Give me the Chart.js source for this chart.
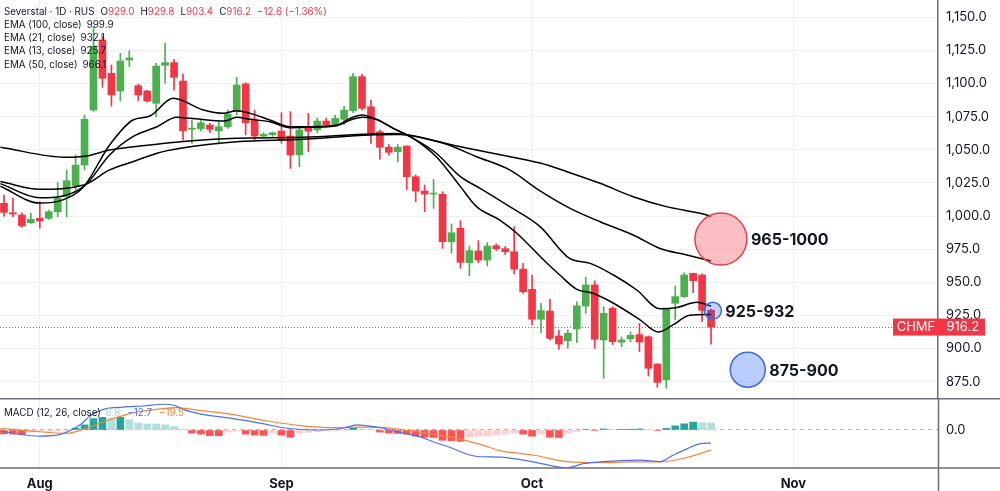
<!DOCTYPE html>
<html>
<head>
<meta charset="utf-8">
<script src="https://cdn.jsdelivr.net/npm/chart.js@4.4.1/dist/chart.umd.min.js"></script>
<style>
  html, body { margin: 0; padding: 0; background: #fff; }
  #wrap { position: relative; width: 1000px; height: 491px; overflow: hidden; font-family: Inter, "Noto Sans", sans-serif; }
  #priceBox { position: absolute; left: 0; top: 0; width: 1000px; height: 398px; }
  #macdBox { position: absolute; left: 0; top: 398px; width: 1000px; height: 93px; }
  .legend { position: absolute; left: 4px; font-size: 9.8px; line-height: 13.3px; color: #131722; white-space: nowrap; }
  .legend .v { margin-left: 5px; }
  .legend .k { margin-left: 6px; }
  .red { color: #f23645; }
</style>
</head>
<body>
<div id="wrap">
  <div id="priceBox"><canvas id="chartPrecio"></canvas></div>
  <div id="macdBox"><canvas id="chartMacd"></canvas></div>
  <div class="legend" style="top:4.5px">
    <div>Severstal · 1D · RUS<span class="k">O</span><span class="red">929.0</span><span class="k">H</span><span class="red">929.8</span><span class="k">L</span><span class="red">903.4</span><span class="k">C</span><span class="red">916.2</span><span class="k red">−12.6 (−1.36%)</span></div>
    <div>EMA (100, close)<span class="v">999.9</span></div>
    <div>EMA (21, close)<span class="v">932.1</span></div>
    <div>EMA (13, close)<span class="v">925.7</span></div>
    <div>EMA (50, close)<span class="v">966.1</span></div>
  </div>
  <div class="legend" style="top:405.5px">MACD (12, 26, close)<span class="v" style="color:#9fd3cd">6.8</span><span class="v" style="color:#4a74e8;margin-left:7px">−12.7</span><span class="v" style="color:#f0883a;margin-left:7px">−19.5</span></div>
</div>
<script>
// velas diarias (indice de barra 0..79)
const opens = [1009.6, 1002.5, 1000.8, 995.0, 998.3, 998.3, 1003.3, 1014.6, 1022.9, 1038.5,
  1080.0, 1132.9, 1107.7, 1094.4, 1117.8, 1098.4, 1094.4, 1085.1, 1113.8, 1115.8,
  1101.9, 1065.5, 1065.9, 1068.7, 1064.4, 1067.4, 1078.8, 1099.7, 1072.5, 1060.4,
  1061.4, 1064.2, 1060.4, 1046.1, 1066.2, 1065.0, 1071.7, 1069.2, 1073.0, 1079.5,
  1105.2, 1082.5, 1063.7, 1051.9, 1048.6, 1052.9, 1029.7, 1018.9, 1016.6, 1016.4,
  980.6, 990.8, 964.8, 973.6, 966.8, 977.6, 975.4, 973.1, 960.0, 944.7,
  922.1, 928.3, 909.5, 905.9, 914.8, 932.1, 948.0, 906.5, 930.4, 904.8,
  907.4, 910.5, 908.9, 888.3, 876.3, 934.2, 939.2, 956.8, 955.5, 929.0];
const highs = [1015.9, 1013.6, 1002.5, 1002.0, 1010.8, 1004.6, 1025.2, 1034.8, 1046.1, 1076.3,
  1142.9, 1136.0, 1114.0, 1122.8, 1124.8, 1099.5, 1095.0, 1115.3, 1130.4, 1118.3,
  1107.2, 1072.5, 1072.0, 1070.0, 1071.2, 1080.0, 1104.7, 1100.6, 1080.0, 1063.0,
  1063.5, 1078.0, 1078.8, 1067.4, 1077.5, 1074.0, 1074.0, 1076.0, 1083.0, 1107.7,
  1107.0, 1087.6, 1065.0, 1054.0, 1054.0, 1053.0, 1031.0, 1023.4, 1027.7, 1018.4,
  994.0, 996.5, 977.4, 981.4, 979.9, 979.0, 977.0, 992.0, 964.3, 955.5,
  934.2, 937.2, 914.0, 914.0, 935.4, 953.8, 951.2, 931.6, 931.6, 908.8,
  912.5, 919.0, 909.5, 888.5, 929.6, 947.2, 957.2, 957.0, 956.3, 929.8];
const lows = [1000.0, 999.3, 991.5, 994.5, 990.8, 997.6, 999.5, 999.5, 1019.7, 1034.8,
  1079.0, 1097.2, 1083.0, 1086.8, 1112.7, 1087.0, 1086.0, 1075.0, 1100.2, 1095.1,
  1057.4, 1054.9, 1064.0, 1062.9, 1054.4, 1066.2, 1076.3, 1061.2, 1057.4, 1059.0,
  1060.0, 1054.9, 1036.0, 1037.2, 1048.6, 1063.0, 1067.0, 1068.0, 1069.0, 1078.0,
  1080.0, 1054.9, 1043.0, 1046.0, 1041.0, 1020.0, 1010.8, 1003.3, 1005.8, 975.7,
  971.9, 960.6, 954.8, 964.8, 962.3, 974.0, 971.0, 956.3, 941.7, 917.8,
  911.9, 906.5, 899.4, 900.2, 904.4, 926.6, 900.2, 877.6, 903.0, 901.2,
  905.2, 897.6, 879.3, 870.8, 870.0, 921.6, 938.5, 942.1, 920.3, 903.4];
const closes = [1002.8, 1001.5, 992.5, 997.5, 996.3, 1003.3, 1013.4, 1026.7, 1038.5, 1073.0,
  1128.3, 1104.0, 1091.4, 1117.0, 1119.3, 1091.4, 1086.8, 1113.2, 1115.8, 1104.7,
  1064.4, 1066.2, 1070.4, 1065.5, 1067.4, 1076.8, 1098.9, 1070.5, 1060.4, 1061.7,
  1062.9, 1057.4, 1046.1, 1065.0, 1064.0, 1071.7, 1068.7, 1073.8, 1080.0, 1105.2,
  1081.3, 1062.5, 1051.9, 1048.1, 1051.9, 1029.7, 1018.9, 1016.6, 1017.2, 980.6,
  987.4, 965.1, 973.9, 966.8, 977.4, 975.4, 973.1, 960.0, 942.9, 922.1,
  928.6, 907.7, 903.4, 911.5, 932.3, 948.0, 907.0, 926.6, 905.2, 906.5,
  910.0, 905.0, 885.1, 874.5, 929.6, 939.2, 955.5, 951.2, 928.8, 916.2];

// medias moviles: posicion (barra) y valor
const ema100At = [-0.4, 7.0, 9.2, 11.8, 16.3, 19.7, 26.0, 33.4, 40.9, 43.7, 45.7, 51.0, 54.6, 59.9, 62.9, 66.6, 70.3, 74.0, 77.8, 79];
const ema100 = [1051.9, 1044.3, 1045.3, 1049.8, 1053.6, 1056.1, 1058.7, 1059.4, 1061.9, 1062.3, 1060.5, 1052.3, 1047.4, 1040.0, 1033.5, 1024.7, 1014.6, 1007.1, 1002.1, 999.9];
const ema50At = [-0.4, 4.0, 8.9, 11.8, 14.4, 17.1, 19.7, 26.0, 33.4, 40.9, 44.2, 49.1, 52.8, 56.5, 59.9, 63.2, 66.6, 70.3, 73.3, 76.3, 79];
const ema50 = [1026.0, 1020.2, 1023.4, 1034.8, 1041.0, 1047.4, 1051.1, 1056.1, 1057.9, 1061.2, 1061.5, 1054.9, 1044.8, 1034.8, 1019.0, 1006.0, 995.7, 985.7, 975.5, 970.6, 966.1];
const ema21At = [-0.4, 4.0, 8.9, 11.8, 14.4, 17.1, 19.3, 20.8, 24.7, 26.0, 27.5, 29.7, 32.0, 34.2, 37.2, 38.7, 40.1, 41.6, 43.5, 45.7, 48.3, 51.0, 53.2, 56.5, 59.9, 63.2, 65.5, 68.1, 70.7, 73.3, 75.2, 77.4, 79];
const ema21 = [1024.5, 1013.8, 1022.2, 1046.1, 1059.9, 1067.4, 1074.5, 1073.8, 1071.7, 1074.5, 1073.0, 1071.2, 1066.7, 1067.0, 1068.2, 1072.5, 1074.5, 1073.0, 1066.2, 1058.7, 1047.4, 1029.7, 1020.9, 1007.1, 992.0, 968.0, 964.3, 955.5, 944.2, 930.0, 931.0, 935.0, 932.1];
const ema13At = [-0.4, 4.0, 6.5, 8.9, 11.8, 14.4, 16.3, 18.9, 22.3, 24.5, 26.0, 27.5, 29.7, 32.0, 34.2, 37.2, 38.7, 40.0, 41.6, 43.5, 45.7, 48.3, 51.0, 52.8, 55.4, 57.3, 60.3, 62.1, 64.0, 65.8, 68.1, 71.1, 73.1, 74.8, 76.6, 79];
const ema13 = [1022.5, 1009.8, 1012.0, 1022.2, 1053.6, 1072.5, 1075.5, 1088.9, 1080.0, 1077.5, 1079.5, 1077.5, 1072.5, 1067.4, 1067.4, 1068.7, 1073.8, 1076.3, 1073.0, 1066.2, 1058.7, 1044.8, 1022.2, 1007.1, 997.0, 987.0, 966.8, 955.5, 944.7, 941.7, 934.2, 921.5, 912.5, 918.0, 925.2, 925.7];

// MACD
const macdAt = [-0.4, 1.8, 4.0, 6.3, 8.5, 9.6, 11.1, 13.3, 15.6, 17.8, 18.9, 20.0, 21.9, 25.6, 28.6, 31.6, 34.9, 37.9, 39.4, 40.5, 42.4, 44.2, 46.5, 48.0, 49.8, 51.7, 53.2, 55.4, 59.1, 62.9, 64.7, 66.6, 71.1, 73.3, 74.8, 76.3, 77.8, 79];
const macdLine = [-1, -4.3, -6, -4.3, 5, 13.3, 20, 22.3, 23.3, 25, 24.3, 20, 15.7, 11, 6.7, 1.7, 0, 1.7, 5, 4.3, 1.7, -2.3, -6.7, -11.7, -16.7, -23.3, -26, -26.3, -31, -36.7, -32.7, -31, -29.3, -30.7, -24.3, -18.3, -13.3, -12.7];
const signalAt = [-0.4, 4.0, 7.0, 9.2, 11.8, 14.4, 17.1, 19.3, 21.9, 25.6, 29.3, 33.1, 36.8, 39.8, 42.4, 46.1, 49.8, 53.6, 55.4, 59.1, 62.9, 66.6, 70.3, 73.3, 76.3, 79];
const signalLine = [1.7, -1.7, -3.3, 1.7, 10, 16.7, 20, 21.7, 19, 15, 9, 4.3, 2.3, 2.7, 2.3, -1.7, -6.7, -15, -20, -24.3, -30.7, -31.7, -31, -31, -26.7, -19.5];
const hist = [-3.8, -4.0, -4.5, -2.0, -1.5, -1.3, -1.0, -0.5, 1.7, 5.0,
  11.0, 12.3, 11.7, 12.3, 10.0, 6.7, 5.8, 5.7, 5.0, 3.3,
  0.3, -3.0, -4.0, -5.5, -5.7, -2.0, -1.0, -4.0, -5.0, -5.3,
  -3.0, -5.0, -7.0, -3.0, -2.3, -1.7, -1.0, -0.5, -0.2, 2.0,
  1.0, 0.3, -2.0, -3.0, -3.3, -4.0, -6.0, -7.0, -7.2, -10.0,
  -10.3, -11.0, -7.0, -6.0, -5.8, -5.0, -4.0, -3.0, -4.0, -6.0,
  -4.0, -7.0, -7.3, -3.0, -1.5, 0.5, -0.5, 1.0, 0.5, 0.7,
  0.8, 1.0, 0.3, -0.5, 1.5, 4.0, 6.0, 7.7, 7.0, 6.8];

// zonas marcadas
const zoneNames = ['965-1000', '925-932', '875-900'];
const zoneBar = [80.1, 79.2, 83.1];
const zonePrice = [982.6, 928.6, 884.0];

// ejes
const priceTicks = [875, 900, 925, 950, 975, 1000, 1025, 1050, 1075, 1100, 1125, 1150];
const monthTicks = [4, 31, 59, 88.2];
const monthLabels = ['Aug', 'Sep', 'Oct', 'Nov'];

// estilos
const UP = '#4caf50';
const DOWN = '#f23645';
const GRID = '#eef0f3';
const FRAME = '#6b6e79';
const TEXT = '#131722';
const zoneRadius = [26, 8.5, 17.5];
const zoneFill = ['rgba(242,54,69,0.32)', 'rgba(41,98,255,0.28)', 'rgba(41,98,255,0.32)'];
const zoneBorder = ['#e0434f', '#3d6be0', '#3d6be0'];

const X_MIN = -4 / 8.95;
const X_MAX = 934 / 8.95;

Chart.defaults.font.family = 'Inter, "Noto Sans", sans-serif';
Chart.defaults.color = TEXT;

const idx = closes.map((c, i) => i);
const candleColors = idx.map(i => closes[i] >= opens[i] ? UP : DOWN);
const pts = (at, vals) => at.map((x, k) => ({ x: x, y: vals[k] }));

function fmtPrecio(v) {
    return v.toLocaleString('en-US', { minimumFractionDigits: 1, maximumFractionDigits: 1 });
}

function emaDataset(at, vals) {
    return {
        type: 'line', data: pts(at, vals), borderColor: '#000', borderWidth: 1.5,
        pointRadius: 0, cubicInterpolationMode: 'monotone', order: 1
    };
}

const lastPricePlugin = {
    id: 'lastPrice',
    beforeDatasetsDraw(chart) {
        const { ctx, chartArea: a, scales: { y } } = chart;
        const py = Math.round(y.getPixelForValue(closes[closes.length - 1])) + 0.5;
        ctx.save();
        ctx.strokeStyle = DOWN;
        ctx.lineWidth = 1;
        ctx.setLineDash([1, 2]);
        ctx.beginPath();
        ctx.moveTo(a.left, py);
        ctx.lineTo(a.right - 45, py);
        ctx.stroke();
        ctx.restore();
    },
    afterDraw(chart) {
        const { ctx, chartArea: a, scales: { y } } = chart;
        const last = closes[closes.length - 1];
        const py = y.getPixelForValue(last);
        ctx.save();
        ctx.fillStyle = DOWN;
        ctx.fillRect(a.right - 45, py - 8.5, 92, 17);
        ctx.fillStyle = '#fff';
        ctx.font = '13px Inter, "Noto Sans", sans-serif';
        ctx.textBaseline = 'middle';
        ctx.textAlign = 'center';
        ctx.fillText('CHMF', a.right - 22, py + 0.5);
        ctx.textAlign = 'left';
        ctx.fillText(fmtPrecio(last), a.right + 8.5, py + 0.5);
        ctx.restore();
    }
};

const zoneLabelPlugin = {
    id: 'zoneLabels',
    afterDatasetsDraw(chart) {
        const { ctx, scales: { x, y } } = chart;
        ctx.save();
        ctx.font = 'bold 16px Inter, "Noto Sans", sans-serif';
        ctx.fillStyle = TEXT;
        ctx.textBaseline = 'middle';
        zoneNames.forEach((nombre, k) => {
            const px = x.getPixelForValue(zoneBar[k]) + zoneRadius[k] + 4;
            const py = y.getPixelForValue(zonePrice[k]) + 1.5;
            ctx.fillText(nombre, px, py);
        });
        ctx.restore();
    }
};

const framePlugin = {
    id: 'frame',
    afterDraw(chart) {
        const { ctx, chartArea: a, width, height } = chart;
        ctx.save();
        ctx.strokeStyle = FRAME;
        ctx.lineWidth = 1.5;
        ctx.beginPath();
        ctx.moveTo(0, a.top + 0.75); ctx.lineTo(width, a.top + 0.75);
        ctx.moveTo(0, a.bottom); ctx.lineTo(width, a.bottom);
        ctx.moveTo(a.right + 0.5, 0); ctx.lineTo(a.right + 0.5, height);
        ctx.stroke();
        ctx.restore();
    }
};

let chartPrecio = null;
let chartMacd = null;

function renderizarPrecio() {
    const ctx = document.getElementById('chartPrecio');
    chartPrecio = new Chart(ctx, {
        type: 'bar',
        data: {
            datasets: [
                {
                    type: 'bar', data: idx.map(i => ({ x: i, y: [lows[i], highs[i]] })),
                    backgroundColor: candleColors, barThickness: 1, grouped: false, order: 3
                },
                {
                    type: 'bar', data: idx.map(i => ({ x: i, y: [opens[i], closes[i]] })),
                    backgroundColor: candleColors, barThickness: 7, grouped: false, minBarLength: 1, order: 2
                },
                emaDataset(ema100At, ema100),
                emaDataset(ema50At, ema50),
                emaDataset(ema21At, ema21),
                emaDataset(ema13At, ema13),
                {
                    type: 'bubble',
                    data: zoneNames.map((n, k) => ({ x: zoneBar[k], y: zonePrice[k], r: zoneRadius[k] })),
                    backgroundColor: zoneFill, borderColor: zoneBorder, borderWidth: 1.5, order: 0, clip: false
                }
            ]
        },
        options: {
            responsive: true,
            maintainAspectRatio: false,
            animation: false,
            events: [],
            layout: { padding: 0, autoPadding: false },
            plugins: { legend: { display: false }, tooltip: { enabled: false } },
            scales: {
                x: {
                    type: 'linear', min: X_MIN, max: X_MAX, offset: false,
                    afterBuildTicks: s => { s.ticks = monthTicks.map(v => ({ value: v })); },
                    ticks: { display: false },
                    grid: { color: GRID, drawTicks: false, offset: false },
                    border: { display: false },
                    afterFit: s => { s.height = 0; s.paddingLeft = 0; s.paddingRight = 0; }
                },
                y: {
                    type: 'linear', position: 'right', min: 862.68, max: 1163.06,
                    afterBuildTicks: s => { s.ticks = priceTicks.map(v => ({ value: v })); },
                    ticks: { padding: 8, color: TEXT, font: { size: 13 }, callback: v => fmtPrecio(v) },
                    grid: { color: GRID, drawTicks: false },
                    border: { color: FRAME, width: 1.5 },
                    afterFit: s => { s.width = 62; s.paddingTop = 0; s.paddingBottom = 0; }
                }
            }
        },
        plugins: [lastPricePlugin, zoneLabelPlugin]
    });
}

function renderizarMacd() {
    const ctx = document.getElementById('chartMacd');
    const histColors = hist.map((h, i) => {
        const prev = i > 0 ? hist[i - 1] : 0;
        if (h >= 0) return h > prev ? '#26a69a' : '#b2dfdb';
        return h < prev ? '#ff5252' : '#ffcdd2';
    });
    chartMacd = new Chart(ctx, {
        type: 'bar',
        data: {
            datasets: [
                {
                    type: 'line', data: pts(macdAt, macdLine), borderColor: '#4a74e8', borderWidth: 1.2,
                    pointRadius: 0, cubicInterpolationMode: 'monotone', order: 0
                },
                {
                    type: 'line', data: pts(signalAt, signalLine), borderColor: '#f0883a', borderWidth: 1.2,
                    pointRadius: 0, cubicInterpolationMode: 'monotone', order: 1
                },
                {
                    type: 'bar', data: idx.map(i => ({ x: i, y: hist[i] })),
                    backgroundColor: histColors, barThickness: 7, grouped: false, order: 2
                }
            ]
        },
        options: {
            responsive: true,
            maintainAspectRatio: false,
            animation: false,
            events: [],
            layout: { padding: 0, autoPadding: false },
            plugins: { legend: { display: false }, tooltip: { enabled: false } },
            scales: {
                x: {
                    type: 'linear', min: X_MIN, max: X_MAX, offset: false,
                    afterBuildTicks: s => { s.ticks = monthTicks.map(v => ({ value: v })); },
                    ticks: {
                        padding: 8, color: TEXT, maxRotation: 0, autoSkip: false,
                        font: { size: 13, weight: 'bold' },
                        callback: (v, i) => monthLabels[i]
                    },
                    grid: { color: GRID, drawTicks: false, offset: false },
                    border: { display: false },
                    afterFit: s => { s.height = 23; s.paddingLeft = 0; s.paddingRight = 0; }
                },
                y: {
                    type: 'linear', position: 'right', min: -36.9, max: 31.07,
                    afterBuildTicks: s => { s.ticks = [{ value: 0 }]; },
                    ticks: { padding: 8, color: TEXT, font: { size: 13 }, callback: v => v.toFixed(1) },
                    grid: { color: '#b2b5be', drawTicks: false },
                    border: { display: false, dash: [4, 4] },
                    afterFit: s => { s.width = 62; s.paddingTop = 0; s.paddingBottom = 0; }
                }
            }
        },
        plugins: [framePlugin]
    });
}

renderizarPrecio();
renderizarMacd();
</script>
</body>
</html>
